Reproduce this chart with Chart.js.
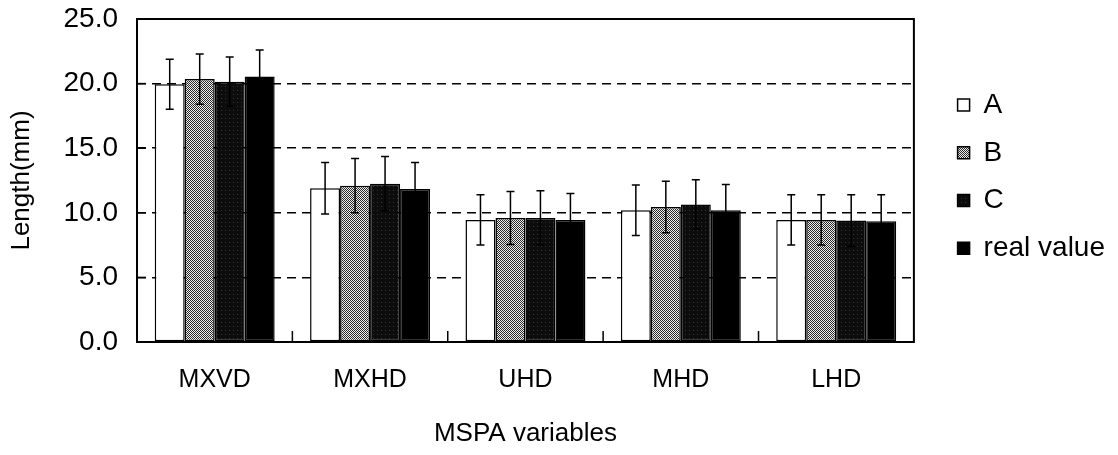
<!DOCTYPE html>
<html>
<head>
<meta charset="utf-8">
<script src="https://cdn.jsdelivr.net/npm/chart.js@4.4.0/dist/chart.umd.min.js"></script>
<style>
  html, body { margin: 0; padding: 0; background: #fff; }
  #wrap { width: 1118px; height: 455px; }
</style>
</head>
<body>
<div id="wrap"><canvas id="lenChart" width="1118" height="455"></canvas></div>
<script>
// Data
const categories = ['MXVD', 'MXHD', 'UHD', 'MHD', 'LHD'];
const seriesA = [19.95, 11.9, 9.45, 10.2, 9.45];
const errA = [1.93, 2.0, 1.95, 1.95, 1.95];
const seriesB = [20.35, 12.1, 9.6, 10.45, 9.45];
const errB = [1.95, 2.1, 2.05, 2.0, 1.95];
const seriesC = [20.15, 12.25, 9.6, 10.65, 9.4];
const errC = [1.9, 2.1, 2.1, 1.9, 2.0];
const seriesReal = [20.55, 11.85, 9.45, 10.2, 9.35];
const errReal = [2.05, 2.05, 2.05, 2.0, 2.05];
const yMin = 0, yMax = 25, yStep = 5;

const FONT = 'Liberation Sans, Arial, Helvetica, sans-serif';
const canvas = document.getElementById('lenChart');
const ctx = canvas.getContext('2d');

// fill patterns to mimic the printed hatching
function checker(dark, light) {
    const c = document.createElement('canvas');
    c.width = 2; c.height = 2;
    const g = c.getContext('2d');
    g.fillStyle = light; g.fillRect(0, 0, 2, 2);
    g.fillStyle = dark; g.fillRect(0, 0, 1, 1); g.fillRect(1, 1, 1, 1);
    return ctx.createPattern(c, 'repeat');
}
function speckle() {
    const c = document.createElement('canvas');
    c.width = 4; c.height = 4;
    const g = c.getContext('2d');
    g.fillStyle = '#0c0c0c'; g.fillRect(0, 0, 4, 4);
    g.fillStyle = '#333'; g.fillRect(1, 2, 1, 1);
    return ctx.createPattern(c, 'repeat');
}

// error bars drawn from each bar's own position
const errorBars = {
    id: 'errorBars',
    afterDatasetsDraw(chart) {
        const c = chart.ctx, y = chart.scales.y;
        c.save();
        c.strokeStyle = '#000';
        c.lineWidth = 1.5;
        chart.data.datasets.forEach((ds, di) => {
            chart.getDatasetMeta(di).data.forEach((bar, i) => {
                const v = ds.data[i], e = ds.errors[i];
                const top = y.getPixelForValue(v + e);
                const bot = y.getPixelForValue(v - e);
                c.beginPath();
                c.moveTo(bar.x, top); c.lineTo(bar.x, bot);
                c.moveTo(bar.x - 4, top); c.lineTo(bar.x + 4, top);
                c.moveTo(bar.x - 4, bot); c.lineTo(bar.x + 4, bot);
                c.stroke();
            });
        });
        c.restore();
    }
};

// plot frame and inside tick marks
const frame = {
    id: 'frame',
    afterDraw(chart) {
        const c = chart.ctx, a = chart.chartArea;
        const x = chart.scales.x, y = chart.scales.y;
        c.save();
        c.strokeStyle = '#000';
        c.lineWidth = 1.5;
        y.ticks.forEach(t => {
            const py = y.getPixelForValue(t.value);
            c.beginPath(); c.moveTo(a.left, py); c.lineTo(a.left + 9, py); c.stroke();
        });
        for (let i = 0; i < categories.length - 1; i++) {
            const px = (x.getPixelForTick(i) + x.getPixelForTick(i + 1)) / 2;
            c.beginPath(); c.moveTo(px, a.bottom); c.lineTo(px, a.bottom - 11); c.stroke();
        }
        c.lineWidth = 2;
        c.strokeRect(a.left, a.top, a.right - a.left, a.bottom - a.top);
        c.restore();
    }
};

new Chart(ctx, {
    type: 'bar',
    data: {
        labels: categories,
        datasets: [
            { label: 'A', data: seriesA, errors: errA, backgroundColor: '#fff' },
            { label: 'B', data: seriesB, errors: errB, backgroundColor: checker('#2a2a2a', '#eeeeee') },
            { label: 'C', data: seriesC, errors: errC, backgroundColor: speckle() },
            { label: 'real value', data: seriesReal, errors: errReal, backgroundColor: '#000' }
        ].map(d => Object.assign(d, {
            borderColor: '#000',
            borderWidth: 1.5,
            borderSkipped: false,
            categoryPercentage: 0.772,
            barPercentage: 1.0
        }))
    },
    options: {
        responsive: false,
        animation: false,
        layout: { padding: { top: 19, right: 3, bottom: 0, left: 0 } },
        scales: {
            x: {
                grid: { display: false, drawTicks: false },
                border: { display: false },
                ticks: { color: '#000', padding: 23, font: { family: FONT, size: 25 } },
                title: {
                    display: true, text: 'MSPA variables', color: '#000',
                    font: { family: FONT, size: 26 },
                    padding: { top: 18, bottom: 6 }
                },
                afterFit: s => { s.height = 113; }
            },
            y: {
                min: yMin, max: yMax,
                grid: {
                    drawTicks: false,
                    lineWidth: 1.6,
                    color: c => (c.tick && (c.tick.value === yMin || c.tick.value === yMax)) ? 'rgba(0,0,0,0)' : '#000'
                },
                border: { display: false, dash: [9, 6] },
                ticks: {
                    stepSize: yStep, color: '#000', padding: 19,
                    font: { family: FONT, size: 28 },
                    callback: v => v.toFixed(1)
                },
                title: {
                    display: true, text: 'Length(mm)', color: '#000',
                    font: { family: FONT, size: 26 },
                    padding: { top: 6, bottom: 20 }
                },
                afterFit: s => { s.width = 137; s.paddingTop = 0; s.paddingBottom = 0; }
            },
            gap: {
                position: 'right',
                grid: { display: false, drawTicks: false },
                border: { display: false },
                ticks: { display: false },
                afterFit: s => { s.width = 24; }
            }
        },
        plugins: {
            tooltip: { enabled: false },
            legend: {
                position: 'right',
                align: 'start',
                fullSize: false,
                title: { display: true, text: '', font: { size: 12 }, padding: { top: 38, bottom: 0 } },
                labels: {
                    color: '#000',
                    boxWidth: 12,
                    boxHeight: 12,
                    padding: 19.7,
                    font: { family: FONT, size: 28 }
                }
            }
        }
    },
    plugins: [errorBars, frame]
});
</script>
</body>
</html>
